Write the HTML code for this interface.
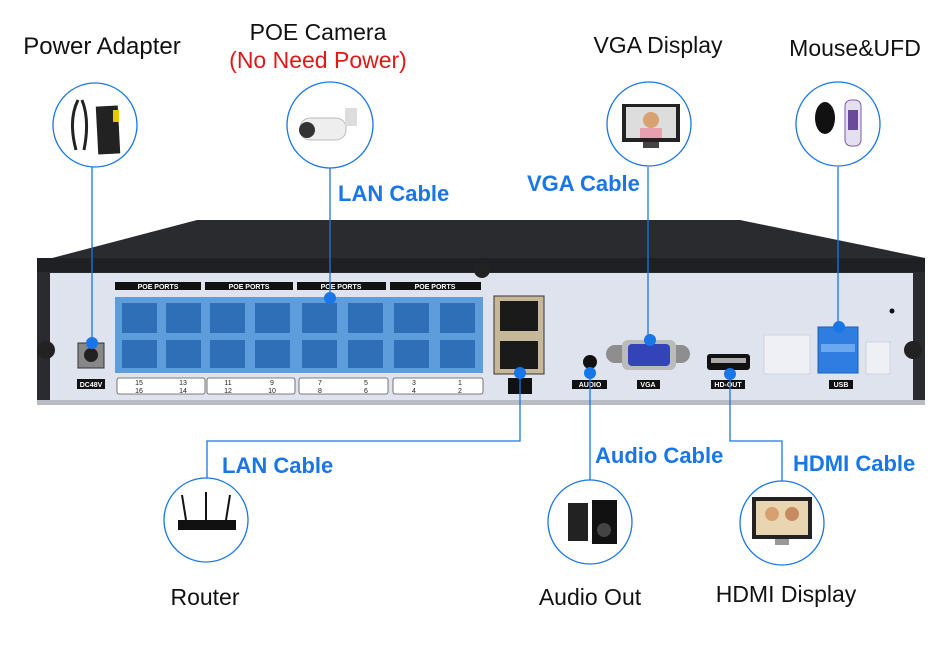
<!DOCTYPE html>
<html><head><meta charset="utf-8"><style>
html,body{margin:0;padding:0;background:#fff;}
svg{display:block;}
.t{font-family:"Liberation Sans",sans-serif;font-size:23px;fill:#111;}
.b{font-family:"Liberation Sans",sans-serif;font-size:22px;font-weight:bold;fill:#1976e6;}
.s{font-family:"Liberation Sans",sans-serif;font-size:7px;fill:#fff;font-weight:bold;}
.n{font-family:"Liberation Sans",sans-serif;font-size:7px;fill:#222;}
</style></head><body>
<svg width="950" height="649" viewBox="0 0 950 649" xmlns="http://www.w3.org/2000/svg">
<!-- titles -->
<text class="t" x="102" y="54" text-anchor="middle" style="font-size:24px">Power Adapter</text>
<text class="t" x="318" y="40" text-anchor="middle">POE Camera</text>
<text class="t" x="318" y="68" text-anchor="middle" style="fill:#e01818">(No Need Power)</text>
<text class="t" x="658" y="53" text-anchor="middle">VGA Display</text>
<text class="t" x="855" y="56" text-anchor="middle">Mouse&amp;UFD</text>
<text class="b" x="338" y="201">LAN Cable</text>
<text class="b" x="527" y="191">VGA Cable</text>
<text class="b" x="222" y="473">LAN Cable</text>
<text class="b" x="595" y="463">Audio Cable</text>
<text class="b" x="793" y="471">HDMI Cable</text>
<text class="t" x="205" y="605" text-anchor="middle">Router</text>
<text class="t" x="590" y="605" text-anchor="middle">Audio Out</text>
<text class="t" x="786" y="602" text-anchor="middle">HDMI Display</text>

<!-- device -->
<polygon points="37,262 197,220 740,220 925,258 925,402 37,402" fill="#2a2b2e"/>
<rect x="37" y="258" width="888" height="14" fill="#1f2023"/>
<rect x="50" y="273" width="863" height="127" fill="#dfe3ee"/>
<rect x="37" y="400" width="888" height="5" fill="#b8bbc2"/>
<circle cx="46" cy="350" r="9" fill="#222"/>
<circle cx="913" cy="350" r="9" fill="#222"/>
<circle cx="482" cy="270" r="8" fill="#222"/>
<circle cx="892" cy="311" r="2.5" fill="#111"/>
<g>
<rect x="115" y="282" width="86" height="8" fill="#111"/><text class="s" x="158" y="289" text-anchor="middle">POE PORTS</text>
<rect x="205" y="282" width="88" height="8" fill="#111"/><text class="s" x="249" y="289" text-anchor="middle">POE PORTS</text>
<rect x="297" y="282" width="89" height="8" fill="#111"/><text class="s" x="341" y="289" text-anchor="middle">POE PORTS</text>
<rect x="390" y="282" width="91" height="8" fill="#111"/><text class="s" x="435" y="289" text-anchor="middle">POE PORTS</text>
<rect x="115" y="297" width="368" height="76" fill="#5e9ddb"/>
</g>
<g fill="#2f6fb8">
<rect x="122" y="303" width="35" height="30"/><rect x="166" y="303" width="35" height="30"/><rect x="210" y="303" width="35" height="30"/><rect x="255" y="303" width="35" height="30"/>
<rect x="302" y="303" width="35" height="30"/><rect x="348" y="303" width="35" height="30"/><rect x="394" y="303" width="35" height="30"/><rect x="440" y="303" width="35" height="30"/>
<rect x="122" y="340" width="35" height="28"/><rect x="166" y="340" width="35" height="28"/><rect x="210" y="340" width="35" height="28"/><rect x="255" y="340" width="35" height="28"/>
<rect x="302" y="340" width="35" height="28"/><rect x="348" y="340" width="35" height="28"/><rect x="394" y="340" width="35" height="28"/><rect x="440" y="340" width="35" height="28"/>
</g>
<g fill="#fff" stroke="#555" stroke-width="0.8">
<rect x="117" y="378" width="88" height="16" rx="2"/><rect x="207" y="378" width="88" height="16" rx="2"/><rect x="299" y="378" width="89" height="16" rx="2"/><rect x="393" y="378" width="90" height="16" rx="2"/>
</g>
<g class="n" text-anchor="middle">
<text x="139" y="385">15</text><text x="139" y="393">16</text><text x="183" y="385">13</text><text x="183" y="393">14</text>
<text x="228" y="385">11</text><text x="228" y="393">12</text><text x="272" y="385">9</text><text x="272" y="393">10</text>
<text x="320" y="385">7</text><text x="320" y="393">8</text><text x="366" y="385">5</text><text x="366" y="393">6</text>
<text x="414" y="385">3</text><text x="414" y="393">4</text><text x="460" y="385">1</text><text x="460" y="393">2</text>
</g>
<rect x="78" y="343" width="26" height="25" fill="#888" stroke="#333"/>
<circle cx="91" cy="355" r="7" fill="#222"/>
<rect x="77" y="379" width="28" height="10" fill="#111"/><text class="s" x="91" y="387" text-anchor="middle">DC48V</text>
<rect x="494" y="296" width="50" height="78" fill="#c8b89a" stroke="#333"/>
<rect x="500" y="301" width="38" height="30" fill="#1a1a1a"/>
<rect x="500" y="341" width="38" height="28" fill="#1a1a1a"/>
<rect x="508" y="378" width="24" height="16" fill="#111"/>
<circle cx="590" cy="362" r="7" fill="#111"/>
<rect x="572" y="380" width="35" height="9" fill="#111"/><text class="s" x="590" y="387" text-anchor="middle">AUDIO</text>
<rect x="606" y="345" width="84" height="18" rx="9" fill="#8e8e8e"/>
<rect x="622" y="340" width="54" height="30" rx="6" fill="#bbb"/>
<rect x="628" y="344" width="42" height="22" rx="4" fill="#3344b8"/>
<rect x="637" y="380" width="23" height="9" fill="#111"/><text class="s" x="648" y="387" text-anchor="middle">VGA</text>
<rect x="707" y="354" width="43" height="16" rx="3" fill="#111"/>
<rect x="711" y="358" width="35" height="5" fill="#aaa"/>
<rect x="711" y="380" width="34" height="9" fill="#111"/><text class="s" x="728" y="387" text-anchor="middle">HD-OUT</text>
<rect x="764" y="335" width="46" height="39" fill="#eef0f6" stroke="#cfd3dd"/>
<rect x="866" y="342" width="24" height="32" fill="#eef0f6" stroke="#cfd3dd"/>
<rect x="818" y="327" width="40" height="46" fill="#2f7de0" stroke="#1a5fb8"/>
<rect x="821" y="344" width="34" height="8" fill="#6aa8f0"/>
<rect x="829" y="380" width="24" height="9" fill="#111"/><text class="s" x="841" y="387" text-anchor="middle">USB</text>

<!-- connectors -->
<g stroke="#1976e6" stroke-width="1.3" fill="none">
<line x1="92" y1="167" x2="92" y2="343"/>
<line x1="330" y1="168" x2="330" y2="298"/>
<line x1="648" y1="167" x2="648" y2="340"/>
<line x1="838" y1="167" x2="838" y2="327"/>
<polyline points="520,373 520,441 207,441 207,478"/>
<line x1="590" y1="373" x2="590" y2="480"/>
<polyline points="730,374 730,441 782,441 782,481"/>
</g>

<!-- circles -->
<g stroke="#1976e6" stroke-width="1.3" fill="#fff">
<circle cx="95" cy="125" r="42"/>
<circle cx="330" cy="125" r="43"/>
<circle cx="649" cy="124" r="42"/>
<circle cx="838" cy="124" r="42"/>
<circle cx="206" cy="520" r="42"/>
<circle cx="590" cy="522" r="42"/>
<circle cx="782" cy="523" r="42"/>
</g>
<rect x="97" y="106" width="22" height="48" fill="#222" transform="rotate(-3 108 130)"/>
<path d="M78 100 Q68 120 76 150 M82 100 Q90 120 84 150" stroke="#222" stroke-width="3" fill="none"/>
<rect x="113" y="110" width="6" height="12" fill="#e8c600"/>
<rect x="300" y="118" width="46" height="22" rx="10" fill="#eee" stroke="#bbb"/>
<circle cx="307" cy="130" r="8" fill="#333"/>
<rect x="345" y="108" width="12" height="18" fill="#ddd"/>
<rect x="622" y="104" width="58" height="38" fill="#222"/>
<rect x="626" y="107" width="50" height="31" fill="#ddd"/>
<circle cx="651" cy="120" r="8" fill="#d9a070"/>
<rect x="640" y="128" width="22" height="10" fill="#e8a0b0"/>
<rect x="643" y="142" width="16" height="6" fill="#444"/>
<ellipse cx="825" cy="118" rx="10" ry="16" fill="#111"/>
<rect x="845" y="100" width="16" height="46" rx="6" fill="#e4e0f0" stroke="#7a5aa8"/>
<rect x="848" y="110" width="10" height="20" fill="#6a4a9a"/>
<rect x="178" y="520" width="58" height="10" fill="#111"/>
<line x1="186" y1="520" x2="182" y2="495" stroke="#111" stroke-width="2"/>
<line x1="206" y1="520" x2="206" y2="492" stroke="#111" stroke-width="2"/>
<line x1="226" y1="520" x2="230" y2="495" stroke="#111" stroke-width="2"/>
<rect x="568" y="503" width="20" height="38" fill="#222"/>
<rect x="592" y="500" width="25" height="44" fill="#111"/>
<circle cx="604" cy="530" r="7" fill="#444"/>
<rect x="752" y="497" width="60" height="42" fill="#222"/>
<rect x="756" y="501" width="52" height="34" fill="#e9d5b0"/>
<circle cx="772" cy="514" r="7" fill="#d7a070"/>
<circle cx="792" cy="514" r="7" fill="#c88a60"/>
<rect x="775" y="539" width="14" height="6" fill="#999"/>

<!-- dots -->
<g fill="#1976e6">
<circle cx="92" cy="343" r="6"/><circle cx="330" cy="298" r="6"/><circle cx="520" cy="373" r="6"/>
<circle cx="590" cy="373" r="6"/><circle cx="650" cy="340" r="6"/><circle cx="730" cy="374" r="6"/><circle cx="839" cy="327" r="6"/>
</g>
</svg>
</body></html>
